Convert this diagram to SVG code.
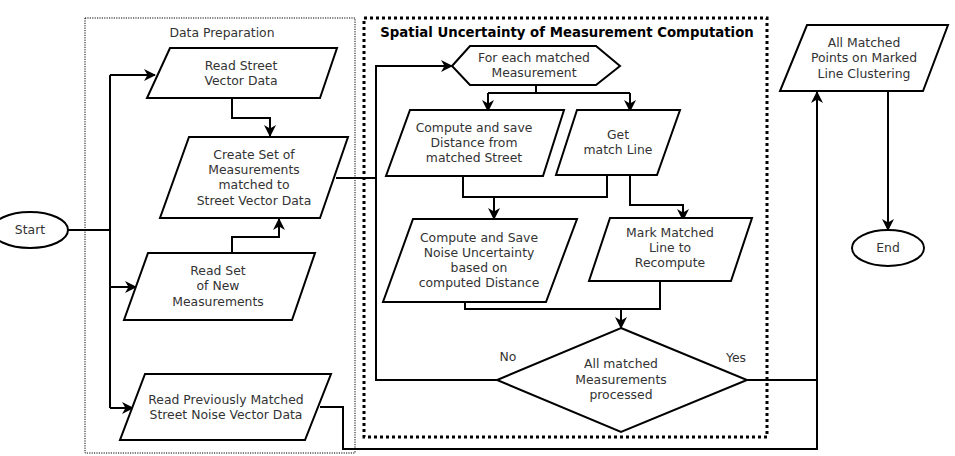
<svg xmlns="http://www.w3.org/2000/svg" width="955" height="456" viewBox="0 0 955 456">
  <style>
    .shape { fill: #fff; stroke: #000; stroke-width: 2; }
    .txt { font-family: "DejaVu Sans", sans-serif; font-size: 12.4px; fill: #333; text-anchor: middle; }
    .title { font-family: "DejaVu Sans", sans-serif; font-size: 13.3px; font-weight: bold; fill: #000; text-anchor: middle; }
    .conn { fill: none; stroke: #000; stroke-width: 2; }
    .arrow { fill: none; stroke: #000; stroke-width: 2; marker-end: url(#head); }
  </style>
  <defs>
    <marker id="head" markerUnits="userSpaceOnUse" markerWidth="12" markerHeight="12" viewBox="0 0 12 12" refX="11" refY="6" orient="auto">
      <path d="M0,0 L12,6 L0,12 L3.5,6 z" fill="#000"/>
    </marker>
  </defs>
  <rect width="955" height="456" fill="#fff"/>

  <!-- group frames -->
  <g id="group-data-preparation">
    <rect x="85" y="18" width="270" height="435" fill="none" stroke="#000" stroke-width="1" stroke-dasharray="1.2,1.2"/>
    <text class="txt" x="222" y="37">Data Preparation</text>
  </g>
  <g id="group-spatial-uncertainty">
    <rect x="364" y="18" width="403" height="419" fill="none" stroke="#000" stroke-width="3" stroke-dasharray="3,3"/>
    <text class="title" x="567" y="37">Spatial Uncertainty of Measurement Computation</text>
  </g>

  <!-- connectors -->
  <g id="connectors">
    <path class="conn" d="M68,230 H110 M110,75 V408"/>
    <path class="arrow" d="M110,75 H155"/>
    <path class="arrow" d="M110,287 H136"/>
    <path class="arrow" d="M110,408 H133"/>
    <path class="arrow" d="M232,98 V118 H270 V136"/>
    <path class="arrow" d="M232,253 V237 H279 V219"/>
    <path class="conn" d="M336,178 H376"/>
    <path class="arrow" d="M497,380 H376 V66 H452"/>
    <path class="conn" d="M536,85 V93 M488,93 H630"/>
    <path class="arrow" d="M488,93 V111"/>
    <path class="arrow" d="M630,93 V111"/>
    <path class="conn" d="M463,176 V197 H607 V175"/>
    <path class="arrow" d="M494,197 V219"/>
    <path class="arrow" d="M630,175 V205 H683 V220"/>
    <path class="conn" d="M465,302 V309 H660 V281"/>
    <path class="arrow" d="M621,309 V328"/>
    <path class="conn" d="M747,380 H817"/>
    <path class="arrow" d="M320,407 H343 V449 H817 V92"/>
    <path class="arrow" d="M888,92 V230"/>
    <text class="txt" x="508" y="361">No</text>
    <text class="txt" x="736" y="362">Yes</text>
  </g>

  <!-- nodes -->
  <g id="start">
    <ellipse class="shape" cx="30" cy="230" rx="38" ry="18"/>
    <text class="txt" x="30" y="234">Start</text>
  </g>
  <g id="read-street">
    <polygon class="shape" points="170,48 337,48 320,98 147,98"/>
    <text class="txt" x="241" y="70">Read Street</text>
    <text class="txt" x="241" y="85">Vector Data</text>
  </g>
  <g id="create-set">
    <polygon class="shape" points="189,137 348,137 320,218 160,218"/>
    <text class="txt" x="254" y="159">Create Set of</text>
    <text class="txt" x="254" y="174">Measurements</text>
    <text class="txt" x="254" y="189">matched to</text>
    <text class="txt" x="254" y="205">Street Vector Data</text>
  </g>
  <g id="read-new">
    <polygon class="shape" points="148,253 315,253 292,320 124,320"/>
    <text class="txt" x="218" y="275">Read Set</text>
    <text class="txt" x="218" y="290">of New</text>
    <text class="txt" x="218" y="306">Measurements</text>
  </g>
  <g id="read-previous">
    <polygon class="shape" points="145,374 331,374 305,440 120,440"/>
    <text class="txt" x="226" y="404">Read Previously Matched</text>
    <text class="txt" x="226" y="419">Street Noise Vector Data</text>
  </g>
  <g id="for-each">
    <polygon class="shape" points="452,66 470,46 596,46 620,66 596,85 470,85"/>
    <text class="txt" x="534" y="62">For each matched</text>
    <text class="txt" x="534" y="77">Measurement</text>
  </g>
  <g id="compute-distance">
    <polygon class="shape" points="410,110 564,110 543,176 386,176"/>
    <text class="txt" x="474" y="132">Compute and save</text>
    <text class="txt" x="474" y="147">Distance from</text>
    <text class="txt" x="474" y="162">matched Street</text>
  </g>
  <g id="get-line">
    <polygon class="shape" points="577,110 680,110 657,175 556,175"/>
    <text class="txt" x="618" y="139">Get</text>
    <text class="txt" x="618" y="154">match Line</text>
  </g>
  <g id="compute-noise">
    <polygon class="shape" points="413,219 577,219 546,302 383,302"/>
    <text class="txt" x="479" y="242">Compute and Save</text>
    <text class="txt" x="479" y="257">Noise Uncertainty</text>
    <text class="txt" x="479" y="272">based on</text>
    <text class="txt" x="479" y="287">computed Distance</text>
  </g>
  <g id="mark-line">
    <polygon class="shape" points="610,218 752,218 731,281 589,281"/>
    <text class="txt" x="670" y="237">Mark Matched</text>
    <text class="txt" x="670" y="252">Line to</text>
    <text class="txt" x="670" y="267">Recompute</text>
  </g>
  <g id="all-processed">
    <polygon class="shape" points="621,328 747,380 621,432 497,380"/>
    <text class="txt" x="621" y="368">All matched</text>
    <text class="txt" x="621" y="384">Measurements</text>
    <text class="txt" x="621" y="399">processed</text>
  </g>
  <g id="clustering">
    <polygon class="shape" points="807,25 948,25 923,91 780,91"/>
    <text class="txt" x="864" y="47">All Matched</text>
    <text class="txt" x="864" y="62">Points on Marked</text>
    <text class="txt" x="864" y="78">Line Clustering</text>
  </g>
  <g id="end">
    <ellipse class="shape" cx="888" cy="248" rx="36" ry="18"/>
    <text class="txt" x="888" y="252">End</text>
  </g>
</svg>
